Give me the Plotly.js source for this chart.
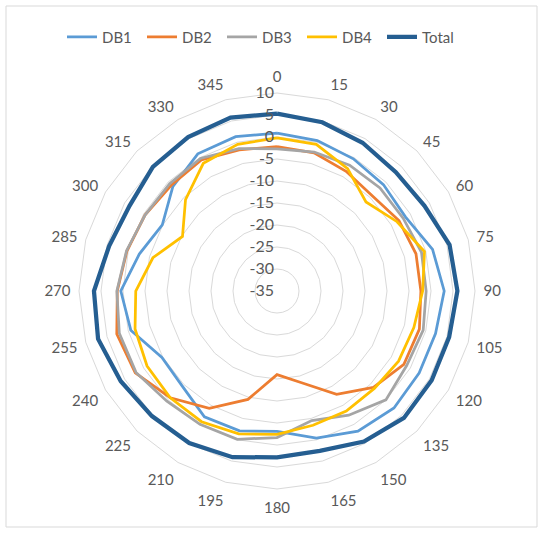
<!DOCTYPE html>
<html>
<head>
<meta charset="utf-8">
<script src="https://cdn.plot.ly/plotly-3.0.1.min.js"></script>
<style>html,body{margin:0;padding:0;background:#fff;}#chart{width:543px;height:533px;}</style>
</head>
<body>
<div id="chart"></div>
<script>
const angles = ['0','15','30','45','60','75','90','105','120','135','150','165','180','195','210','225','240','255','270','285','300','315','330','345'];
const db1   = [0.9, 0.4, -0.3, -0.8, -1.3, 1.6, 3.0, 2.3, 2.3, 2.6, 1.8, -0.4, -3.1, -2.1, -2.0, -4.5, -4.8, -0.6, 0.5, -2.6, -4.9, -1.5, 1.0, 1.3];
const db2   = [-2.2, -2.5, -3.6, -4.4, -3.0, -2.3, -2.3, -1.5, -1.7, -4.0, -7.9, -13.4, -16.0, -9.5, -4.2, -0.7, 2.2, 2.7, 1.3, 0.3, -0.4, -1.0, -0.6, -1.8];
const db3   = [-2.7, -2.3, -2.0, -1.9, -1.9, -1.0, -1.1, -0.6, -1.0, 0.0, -2.4, -4.5, -1.7, -0.1, 0.0, 0.4, 2.0, 2.1, 1.4, 0.4, -0.4, -0.5, -0.2, -1.5];
const db4   = [-0.2, -0.5, -2.9, -6.4, -3.5, -0.3, -1.9, -2.8, -3.1, -3.7, -3.5, -3.4, -2.4, -1.4, -0.7, -0.7, -0.9, -1.6, -2.9, -5.8, -10.2, -5.6, -1.5, -0.5];
const total = [5.3, 4.7, 3.9, 3.2, 3.7, 5.6, 6.0, 5.5, 5.6, 5.8, 4.5, 2.6, 2.8, 4.1, 4.9, 5.2, 6.0, 7.1, 6.6, 4.5, 3.7, 4.9, 5.4, 5.8];
const seriesNames = ['DB1','DB2','DB3','DB4','Total'];
const seriesColors = ['#5B9BD5','#ED7D31','#A5A5A5','#FFC000','#255E91'];
const seriesWidths = [2.75, 2.75, 2.75, 2.75, 4.25];
const radialTicks = [10, 5, 0, -5, -10, -15, -20, -25, -30, -35];

const closed = a => a.concat([a[0]]);
const data = [db1, db2, db3, db4, total].map((vals, i) => ({
  type: 'scatterpolar',
  mode: 'lines',
  name: seriesNames[i],
  theta: closed(angles),
  r: closed(vals),
  line: {color: seriesColors[i], width: seriesWidths[i]},
  hoverinfo: 'skip'
}));

const W = 543, H = 533;
const cx = 277, cy = 291, R = 198;
const layout = {
  width: W, height: H,
  margin: {l: 0, r: 0, t: 0, b: 0},
  paper_bgcolor: '#ffffff',
  font: {family: 'Lato, "Open Sans", sans-serif', size: 15, color: '#595959'},
  showlegend: true,
  legend: {
    orientation: 'h', x: 62 / W, xanchor: 'left', y: (H - 37) / H, yanchor: 'middle',
    font: {size: 15, color: '#595959'}, itemwidth: 30, tracegroupgap: 0,
    entrywidth: 35, entrywidthmode: 'pixels'
  },
  polar: {
    domain: {x: [(cx - R) / W, (cx + R) / W], y: [(H - cy - R) / H, (H - cy + R) / H]},
    bgcolor: '#ffffff',
    gridshape: 'linear',
    angularaxis: {
      type: 'category',
      categoryarray: angles,
      direction: 'clockwise',
      rotation: 90,
      showgrid: false,
      showline: true,
      linecolor: '#d9d9d9',
      linewidth: 1,
      ticks: 'outside',
      ticklen: 5,
      tickcolor: 'rgba(0,0,0,0)',
      tickfont: {size: 15, color: '#595959'}
    },
    radialaxis: {
      range: [-35, 10],
      angle: 90,
      tickangle: 90,
      side: 'counterclockwise',
      tickvals: radialTicks,
      ticktext: radialTicks.map(String),
      showline: false,
      ticks: '',
      gridcolor: '#d9d9d9',
      gridwidth: 1,
      tickfont: {size: 16, color: '#595959'}
    }
  },
  shapes: [{
    type: 'rect', xref: 'paper', yref: 'paper',
    x0: 6 / W, x1: (W - 6) / W, y0: 6 / H, y1: (H - 6) / H,
    line: {color: '#d9d9d9', width: 1}, fillcolor: 'rgba(0,0,0,0)', layer: 'below'
  }]
};

Plotly.newPlot('chart', data, layout, {displayModeBar: false, staticPlot: true});
</script>
</body>
</html>
